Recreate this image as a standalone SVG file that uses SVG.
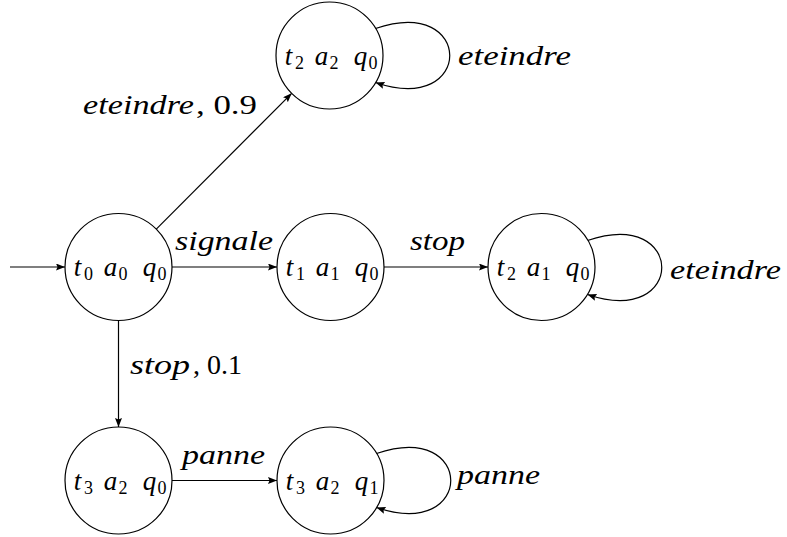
<svg xmlns="http://www.w3.org/2000/svg" width="787" height="537" viewBox="0 0 787 537">
  <defs>
    <marker id="tip" markerUnits="userSpaceOnUse" markerWidth="10" markerHeight="8" refX="9" refY="3.5" orient="auto">
      <path d="M0,0 L9,3.5 L0,7 L1.5,3.5 z" fill="#000"/>
    </marker>
    <style>
      .state { fill: #fff; stroke: #000; stroke-width: 1.2; }
      .edge { fill: none; stroke: #000; stroke-width: 1.2; marker-end: url(#tip); }
      .lbl { font-family: "Liberation Serif", serif; font-size: 27px; fill: #000; }
      .it { font-style: italic; }
      .sub { font-size: 18px; font-style: normal; }
      .name { text-anchor: middle; }
    </style>
  </defs>
  <rect width="787" height="537" fill="#fff"/>

  <!-- transitions -->
  <g id="edges">
    <path class="edge" d="M10,267 L65,267"/>
    <path class="edge" d="M172,267 L277,267"/>
    <path class="edge" d="M384,267 L488,267"/>
    <path class="edge" d="M118.5,320.5 L118.5,427"/>
    <path class="edge" d="M172,480.5 L277,480.5"/>
    <path class="edge" d="M156.3,229.2 L291.7,93.3"/>
    <path class="edge" d="M375.5,28.5 C474.5,-5.5 474.5,116.5 375.5,82.5"/>
    <path class="edge" d="M587.5,240.5 C686.5,206.5 686.5,328.5 587.5,294.5"/>
    <path class="edge" d="M376.5,453.5 C475.5,419.5 475.5,541.5 376.5,507.5"/>
  </g>

  <!-- transition labels -->
  <g id="labels" class="lbl">
    <text class="it" x="175" y="250" textLength="98" lengthAdjust="spacingAndGlyphs">signale</text>
    <text class="it" x="410" y="250" textLength="55" lengthAdjust="spacingAndGlyphs">stop</text>
    <text class="it" x="670" y="279" textLength="111" lengthAdjust="spacingAndGlyphs">eteindre</text>
    <text class="it" x="458" y="65" textLength="113" lengthAdjust="spacingAndGlyphs">eteindre</text>
    <text class="it" x="83" y="114" textLength="111" lengthAdjust="spacingAndGlyphs">eteindre</text>
    <text x="196" y="114" textLength="61" lengthAdjust="spacingAndGlyphs">, 0.9</text>
    <text class="it" x="130" y="374" textLength="60" lengthAdjust="spacingAndGlyphs">stop</text>
    <text x="193" y="374" textLength="49" lengthAdjust="spacingAndGlyphs">, 0.1</text>
    <text class="it" x="182" y="464" textLength="83" lengthAdjust="spacingAndGlyphs">panne</text>
    <text class="it" x="457" y="484" textLength="83" lengthAdjust="spacingAndGlyphs">panne</text>
  </g>

  <!-- states: italic symbol with upright subscript -->
  <g id="n0" transform="translate(118.5,267)">
    <circle class="state" r="53.5"/>
    <text class="lbl name"><tspan class="it" x="-41" y="9">t</tspan><tspan class="sub" x="-30" y="13">0</tspan><tspan class="it" x="-8" y="9">a</tspan><tspan class="sub" x="4.5" y="13">0</tspan><tspan class="it" x="31" y="9">q</tspan><tspan class="sub" x="43.5" y="13">0</tspan></text>
  </g>
  <g id="n1" transform="translate(329.5,55.5)">
    <circle class="state" r="53.5"/>
    <text class="lbl name"><tspan class="it" x="-41" y="9">t</tspan><tspan class="sub" x="-30" y="13">2</tspan><tspan class="it" x="-8" y="9">a</tspan><tspan class="sub" x="4.5" y="13">2</tspan><tspan class="it" x="31" y="9">q</tspan><tspan class="sub" x="43.5" y="13">0</tspan></text>
  </g>
  <g id="n2" transform="translate(330.5,267)">
    <circle class="state" r="53.5"/>
    <text class="lbl name"><tspan class="it" x="-41" y="9">t</tspan><tspan class="sub" x="-30" y="13">1</tspan><tspan class="it" x="-8" y="9">a</tspan><tspan class="sub" x="4.5" y="13">1</tspan><tspan class="it" x="31" y="9">q</tspan><tspan class="sub" x="43.5" y="13">0</tspan></text>
  </g>
  <g id="n3" transform="translate(541.5,267)">
    <circle class="state" r="53.5"/>
    <text class="lbl name"><tspan class="it" x="-41" y="9">t</tspan><tspan class="sub" x="-30" y="13">2</tspan><tspan class="it" x="-8" y="9">a</tspan><tspan class="sub" x="4.5" y="13">1</tspan><tspan class="it" x="31" y="9">q</tspan><tspan class="sub" x="43.5" y="13">0</tspan></text>
  </g>
  <g id="n4" transform="translate(118.5,480.5)">
    <circle class="state" r="53.5"/>
    <text class="lbl name"><tspan class="it" x="-41" y="9">t</tspan><tspan class="sub" x="-30" y="13">3</tspan><tspan class="it" x="-8" y="9">a</tspan><tspan class="sub" x="4.5" y="13">2</tspan><tspan class="it" x="31" y="9">q</tspan><tspan class="sub" x="43.5" y="13">0</tspan></text>
  </g>
  <g id="n5" transform="translate(330.5,480.5)">
    <circle class="state" r="53.5"/>
    <text class="lbl name"><tspan class="it" x="-41" y="9">t</tspan><tspan class="sub" x="-30" y="13">3</tspan><tspan class="it" x="-8" y="9">a</tspan><tspan class="sub" x="4.5" y="13">2</tspan><tspan class="it" x="31" y="9">q</tspan><tspan class="sub" x="43.5" y="13">1</tspan></text>
  </g>
</svg>
